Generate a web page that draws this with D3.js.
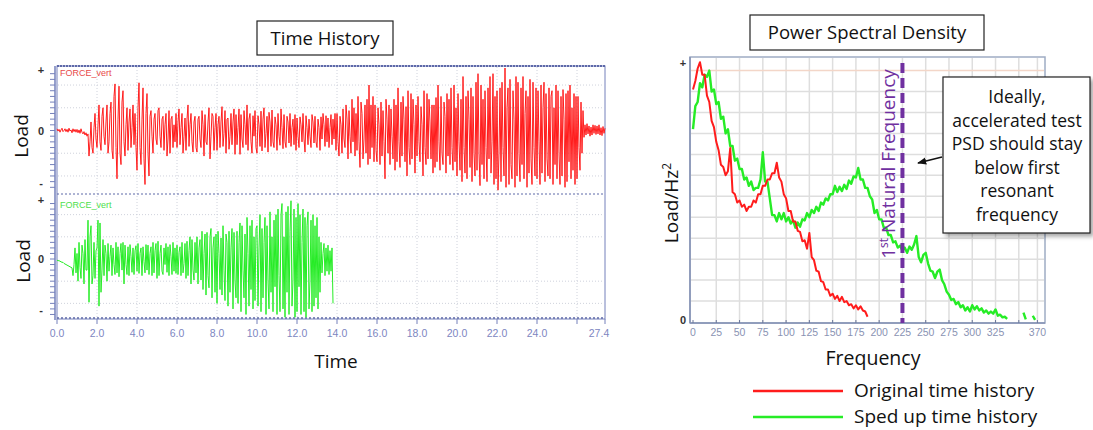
<!DOCTYPE html>
<html><head><meta charset="utf-8">
<script src="https://cdn.jsdelivr.net/npm/d3@7"></script>
<style>
html,body{margin:0;padding:0;background:#fff;}
svg{display:block;}
</style></head><body>
<svg id="chart" width="1093" height="430"></svg>
<script>
// ---------- data ----------
// vertical load, sampled every 0.05 s, in percent of full scale (+100 = "+", -100 = "-")
const timeStep = 0.05;
const originalLoad = [
  3,-1,2,-3,1,4,-2,0,3,-2,2,-3,4,-1,1,-4,3,-2,2,-3,
  2,-4,1,-5,3,-3,-6,-2,-8,-4,-10,-6,-45,-20,15,-30,-40,5,30,-15,
  -30,10,45,-20,-35,25,40,-10,-25,15,45,-40,-20,30,50,-35,-50,60,82,-30,
  -85,20,78,-40,-60,50,70,-20,-45,10,40,-35,15,38,-30,5,45,-25,30,-30,
  -70,40,84,-30,-60,20,75,-50,-95,30,65,-40,-80,25,35,-10,-40,20,30,-15,
  -25,35,40,-10,-30,20,25,-35,10,30,-45,-15,35,-40,20,25,-30,10,-20,30,
  -30,15,38,-25,5,30,-40,-10,22,-35,20,45,-28,10,30,-20,-38,15,25,-30,
  -38,20,25,-15,-30,35,10,-45,28,-20,-25,15,40,-50,-10,30,25,-35,5,30,
  -35,10,25,-30,15,42,-28,-5,35,-40,20,22,-33,-10,30,-25,15,38,-42,28,
  -25,5,38,-42,28,-15,-30,35,10,-25,45,-35,20,30,-20,-40,26,-10,35,-30,
  -40,26,10,-28,34,-36,20,40,-30,-5,25,-38,32,15,-28,36,-20,-30,24,10,
  -35,30,-10,-26,38,5,-32,28,-20,-30,25,15,-22,30,-28,5,20,-25,28,-35,
  22,-10,-30,24,10,-20,30,-15,-38,26,5,-25,20,-10,-30,28,15,-22,25,-20,
  -30,20,5,-35,24,-15,30,10,-28,26,-20,22,-30,5,28,-25,20,-15,30,-35,
  30,-20,-45,25,10,-40,38,-15,-30,45,20,-50,35,-10,-40,55,-20,40,-45,30,
  -35,60,-20,-65,50,30,-50,-15,45,-40,55,-60,80,-50,45,-30,60,-55,45,-35,
  -55,40,10,-60,50,-45,35,-20,-85,55,20,-40,45,-60,38,-10,-50,55,-70,45,
  -55,75,-20,-65,50,-45,60,20,-55,42,-80,70,-30,-60,65,-50,55,10,-75,45,
  -45,60,-20,-55,42,10,-80,70,-30,-60,65,-50,55,15,-50,45,-75,45,-65,58,
  -55,80,-20,-70,60,-40,-60,50,25,-75,65,-45,55,-60,75,-30,-70,80,-55,40,
  -80,65,-20,-70,55,-90,95,-30,-75,60,-85,70,20,-65,75,-90,60,-40,-80,85,
  -70,100,-40,-97,80,-60,55,-85,70,-30,-90,75,-50,95,-75,-20,100,-95,60,-85,
  70,-105,-40,75,-90,85,-30,-80,110,-100,40,75,-95,90,-60,-85,70,20,-100,95,
  -80,85,-40,-90,75,-60,95,-85,30,70,-100,60,-75,90,-50,-95,85,-30,-80,75,
  -85,70,-20,-95,80,-75,40,85,-90,65,-50,-80,75,-85,60,70,-95,40,-60,80,
  -85,70,-40,-95,60,-80,72,20,-100,65,-90,70,-55,80,-85,40,-70,65,-95,60,
  -85,60,-30,-70,50,-40,35,-12,10,-8,12,-6,8,-10,6,-8,10,-5,9,-7,
  8,-6,10,-8,5,-9,7,-5,4
];
const spedUpLoad = [
  -2,-3,-3,-4,-5,-6,-6,-8,-9,-10,-11,-12,-13,-14,-15,-16,-30,-10,20,-25,
  10,-40,30,-15,-35,25,10,-45,35,-20,-20,70,-78,40,60,-45,-30,30,-35,15,
  20,70,-85,65,-60,-20,35,-30,25,10,-40,28,-22,5,25,-30,20,-10,-28,30,
  -25,22,-32,10,28,-20,30,-45,25,-10,-28,22,-30,26,5,-24,20,-28,15,24,
  -22,28,-26,10,20,-30,22,-5,-25,26,-20,25,-28,10,22,-30,30,-25,15,28,
  -35,32,-30,10,25,-22,-28,20,-10,28,-24,22,-30,26,5,-28,30,-22,20,-26,
  25,-28,12,22,-30,30,-25,-8,28,-35,32,-30,15,40,-45,35,-20,-38,30,-25,
  40,-45,20,35,-38,50,-55,10,45,-65,48,-30,-52,40,55,-70,20,40,-60,45,
  -80,50,10,-55,38,-65,60,-20,-75,45,30,-85,50,-60,20,55,-90,48,-40,-70,
  50,-80,30,65,-95,60,-20,-70,45,-100,75,10,-85,60,-55,70,-90,40,-75,55,
  60,-85,20,80,-95,55,-70,30,75,-100,60,-40,-90,85,-60,40,-95,70,-50,80,
  -100,90,-30,-95,80,100,-90,40,-105,85,-60,95,-100,50,105,-85,-40,90,-105,75,
  -95,100,-50,80,-100,30,90,-95,75,-105,60,85,-90,-40,70,-95,80,-85,60,-70,
  75,-90,40,-60,30,-25,10,28,-30,20,-22,25,-28,15,-22,20,-80
];
const timeTicks = [0,2,4,6,8,10,12,14,16,18,20,22,24,26,27.4];
const timeTickLabels = ["0.0","2.0","4.0","6.0","8.0","10.0","12.0","14.0","16.0","18.0","20.0","22.0","24.0","","27.4"];

// power spectral density, sampled every 2.5 Hz (null = no trace)
const freqStep = 2.5;
const originalPsd = [
  11.1,11.5,12.1,12.4,11.8,11.8,10.8,10.5,9.6,9.3,
  8.6,8.2,7.5,7.4,7.0,7.2,8.3,6.2,6.1,5.7,
  5.8,5.5,5.6,5.3,5.5,5.5,5.8,5.7,6.1,6.1,
  6.5,6.5,6.8,6.8,7.1,7.1,7.6,6.9,6.7,6.1,
  5.9,5.3,5.3,4.8,4.8,4.35,4.3,3.85,3.9,3.5,
  4.25,3.1,2.95,2.45,2.4,1.95,1.9,1.55,1.55,1.25,
  1.35,1.1,1.25,1.0,1.2,0.95,1.0,0.8,0.85,0.65,
  0.8,0.6,0.75,0.55,0.5,0.25
];
const spedUpPsd = [
  9.2,10.3,10.5,11.4,11.2,11.8,11.7,12.0,11.0,11.1,
  10.4,10.5,9.7,9.8,9.0,9.2,8.4,8.4,7.7,7.8,
  7.3,7.3,6.8,6.9,6.5,6.7,6.3,6.4,6.4,6.8,
  8.1,6.7,6.7,5.9,5.1,5.1,4.8,5.2,4.9,5.2,
  4.8,5.0,4.7,4.85,4.5,4.75,4.55,4.9,4.85,5.2,
  5.0,5.35,5.2,5.5,5.3,5.7,5.6,5.9,5.8,6.1,
  6.1,6.5,6.2,6.45,6.25,6.55,6.35,6.75,6.6,6.95,
  6.9,7.35,6.8,6.8,6.4,6.4,6.0,5.85,5.2,5.35,
  4.9,4.9,4.5,4.5,4.15,4.15,3.8,3.85,3.55,3.65,
  3.4,3.55,3.3,3.6,3.45,3.7,4.1,3.1,2.85,3.2,
  3.3,2.8,2.45,2.4,2.1,2.4,2.5,2.0,1.8,1.45,
  1.3,1.05,1.1,0.85,0.95,0.7,0.8,0.55,0.7,0.5,
  0.8,0.6,0.75,0.55,0.65,0.45,0.55,0.4,0.5,0.4,
  0.6,0.3,0.35,0.22,0.25,0.15,null,null,null,null,
  null,null,0.45,0.12,null,null,0.3,0.1,null
];
const freqTicks = [0,25,50,75,100,125,150,175,200,225,250,275,300,325,350,370];
const freqTickLabels = ["0","25","50","75","100","125","150","175","200","225","250","275","300","325","","370"];
const naturalFrequency = 225;

const seriesNames = ["Original time history","Sped up time history"];
const noteLines = ["Ideally,","accelerated test","PSD should stay","below first","resonant","frequency"];

// ---------- drawing ----------
const svg = d3.select("#chart");
const RED = "#ff1c1c", GREEN = "#26ec26", PURPLE = "#7030a0";
const AXIS_BLUE = "#7480bb", TICK_TXT = "#7d86bf";
const FONT = "'Open Sans', 'DejaVu Sans', sans-serif";
const SMALL = "'Liberation Sans', Arial, sans-serif";

const defs = svg.append("defs");
const shadow = defs.append("filter").attr("id","shadow").attr("x","-10%").attr("y","-10%").attr("width","130%").attr("height","130%");
shadow.append("feDropShadow").attr("dx",3).attr("dy",3).attr("stdDeviation",2).attr("flood-color","#000").attr("flood-opacity",0.35);
defs.append("marker").attr("id","arrow").attr("viewBox","0 0 10 10").attr("refX",9).attr("refY",5)
  .attr("markerWidth",7).attr("markerHeight",7).attr("orient","auto-start-reverse")
  .append("path").attr("d","M0,1 L10,5 L0,9 z").attr("fill","#111");

// title boxes
function titleBox(cx, y, w, h, label) {
  svg.append("rect").attr("x", cx - w/2).attr("y", y).attr("width", w).attr("height", h)
    .attr("fill","#fff").attr("stroke","#222").attr("stroke-width",1.2);
  svg.append("text").attr("x", cx).attr("y", y + h/2 + 6.5).attr("text-anchor","middle")
    .attr("font-family",FONT).attr("font-size",18.5).attr("fill","#111").text(label);
}
titleBox(325, 21, 136, 34, "Time History");
titleBox(867, 15, 234, 35, "Power Spectral Density");

// ----- time history panels -----
const xT = d3.scaleLinear().domain([0, 27.4]).range([57, 605]);
const yTop = d3.scaleLinear().domain([-110, 110]).range([193, 68]);
const yBot = d3.scaleLinear().domain([-110, 110]).range([320, 198]);
const th = svg.append("g");

// grid
th.selectAll("line.vg").data(timeTicks.filter(t => t > 0 && t < 27)).join("line")
  .attr("x1", d => xT(d)).attr("x2", d => xT(d)).attr("y1", 67).attr("y2", 318)
  .attr("stroke","#cfd2dc").attr("stroke-dasharray","1,2");
[yTop, yBot].forEach(y => {
  th.selectAll(null).data([-80,-40,40,80]).join("line")
    .attr("x1", 58).attr("x2", 604).attr("y1", d => y(d)).attr("y2", d => y(d))
    .attr("stroke","#cfd2dc").attr("stroke-dasharray","1,2");
});

// frame
th.append("rect").attr("x",57).attr("y",66).attr("width",548).attr("height",253)
  .attr("fill","none").attr("stroke",AXIS_BLUE).attr("stroke-width",1);
th.append("line").attr("x1",57).attr("x2",605).attr("y1",66).attr("y2",66)
  .attr("stroke","#5d68a8").attr("stroke-width",2).attr("stroke-dasharray","2,1");
th.append("line").attr("x1",57).attr("x2",605).attr("y1",194).attr("y2",194)
  .attr("stroke","#5d68a8").attr("stroke-width",1).attr("stroke-dasharray","2,2");
th.append("line").attr("x1",57).attr("x2",605).attr("y1",318).attr("y2",318)
  .attr("stroke","#5d68a8").attr("stroke-width",1.5).attr("stroke-dasharray","2,2");

// left axis with minor ticks
th.append("line").attr("x1",55).attr("x2",55).attr("y1",66).attr("y2",320)
  .attr("stroke",AXIS_BLUE).attr("stroke-width",1.5);
[yTop, yBot].forEach(y => {
  th.selectAll(null).data(d3.range(-100, 101, 10)).join("line")
    .attr("x1", 50).attr("x2", 55).attr("y1", d => y(d)).attr("y2", d => y(d))
    .attr("stroke", AXIS_BLUE).attr("stroke-width", 1);
  th.selectAll(null).data([[100,"+"],[0,"0"],[-100,"-"]]).join("text")
    .attr("x", 41).attr("y", d => y(d[0]) + (d[1]==="0" ? 4 : 0))
    .attr("text-anchor","middle").attr("font-family",SMALL).attr("font-size",11)
    .attr("font-weight","bold").attr("fill","#333").text(d => d[1]);
});

// bottom ticks & labels
th.selectAll("line.xt").data(timeTicks).join("line")
  .attr("x1", d => xT(d)).attr("x2", d => xT(d)).attr("y1", 319).attr("y2", 324)
  .attr("stroke", AXIS_BLUE);
th.selectAll("text.xl").data(timeTicks).join("text")
  .attr("x", d => xT(d) - (d === 27.4 ? 6 : 0)).attr("y", 337).attr("text-anchor","middle")
  .attr("font-family",SMALL).attr("font-size",10.5).attr("fill",TICK_TXT)
  .text((d,i) => timeTickLabels[i]);

// signals
const lineTop = d3.line().x((d,i) => xT(i*timeStep)).y(d => yTop(d));
const lineBot = d3.line().x((d,i) => xT(i*timeStep)).y(d => yBot(d));
th.append("path").attr("d", lineTop(originalLoad)).attr("fill","none")
  .attr("stroke",RED).attr("stroke-width",1).attr("stroke-linejoin","round");
th.append("path").attr("d", lineBot(spedUpLoad)).attr("fill","none")
  .attr("stroke",GREEN).attr("stroke-width",1).attr("stroke-linejoin","round");

th.append("text").attr("x",60).attr("y",76).attr("font-family",SMALL).attr("font-size",9)
  .attr("fill","#e84a4a").text("FORCE_vert");
th.append("text").attr("x",60).attr("y",208).attr("font-family",SMALL).attr("font-size",9)
  .attr("fill","#4de04d").text("FORCE_vert");

// axis titles
function vLabel(x, y, txt, sup) {
  const t = svg.append("text").attr("transform", `translate(${x},${y}) rotate(-90)`)
    .attr("text-anchor","middle").attr("font-family",FONT).attr("font-size",19).attr("fill","#111").text(txt);
  if (sup) t.append("tspan").attr("dy",-7).attr("font-size",12).text(sup);
}
vLabel(28, 136, "Load");
vLabel(30, 261, "Load");
svg.append("text").attr("x",336).attr("y",368).attr("text-anchor","middle")
  .attr("font-family",FONT).attr("font-size",19).attr("fill","#111").text("Time");

// ----- PSD panel -----
const xF = d3.scaleLinear().domain([0, 376]).range([693, 1043]);
const yP = d3.scaleLinear().domain([0, 12.6]).range([322, 58]);
const ps = svg.append("g");

ps.append("rect").attr("x",690).attr("y",57).attr("width",355).attr("height",266)
  .attr("fill","#fff").attr("stroke","#9eacc4").attr("stroke-width",1.5);
ps.selectAll(null).data(freqTicks.filter(f => f > 0)).join("line")
  .attr("x1", d => xF(d)).attr("x2", d => xF(d)).attr("y1", 58).attr("y2", 322)
  .attr("stroke","#dedede").attr("stroke-width",1.5);
ps.selectAll(null).data(d3.range(1, 12)).join("line")
  .attr("x1", 691).attr("x2", 1044).attr("y1", d => yP(d)).attr("y2", d => yP(d))
  .attr("stroke","#dedede").attr("stroke-width",1.5);
ps.append("line").attr("x1",691).attr("x2",1044).attr("y1",yP(12)).attr("y2",yP(12))
  .attr("stroke","#f3d6c8").attr("stroke-width",1.5);

// axes
ps.append("line").attr("x1",690).attr("x2",1045).attr("y1",323).attr("y2",323)
  .attr("stroke","#8592b4").attr("stroke-width",1.5);
ps.append("line").attr("x1",690).attr("x2",690).attr("y1",57).attr("y2",323)
  .attr("stroke","#8592b4").attr("stroke-width",1.5);
ps.selectAll(null).data(freqTicks).join("line")
  .attr("x1", d => xF(d)).attr("x2", d => xF(d)).attr("y1", 320).attr("y2", 323)
  .attr("stroke","#6c789c");
ps.selectAll(null).data(freqTicks).join("text")
  .attr("x", d => xF(d)).attr("y", 336).attr("text-anchor","middle")
  .attr("font-family",SMALL).attr("font-size",10.5).attr("fill","#8a93b3")
  .text((d,i) => freqTickLabels[i]);
ps.append("text").attr("x",683).attr("y",67).attr("text-anchor","middle")
  .attr("font-family",SMALL).attr("font-size",11).attr("font-weight","bold").attr("fill","#333").text("+");
ps.append("text").attr("x",683).attr("y",324).attr("text-anchor","middle")
  .attr("font-family",SMALL).attr("font-size",11).attr("font-weight","bold").attr("fill","#333").text("0");

// spectra
const psdLine = d3.line().defined(d => d !== null).x((d,i) => xF(i*freqStep)).y(d => yP(d));
ps.append("path").attr("d", psdLine(spedUpPsd)).attr("fill","none")
  .attr("stroke",GREEN).attr("stroke-width",2.4).attr("stroke-linejoin","round");
ps.append("path").attr("d", psdLine(originalPsd)).attr("fill","none")
  .attr("stroke",RED).attr("stroke-width",2).attr("stroke-linejoin","round");

// first natural frequency marker
ps.append("line").attr("x1", xF(naturalFrequency)).attr("x2", xF(naturalFrequency))
  .attr("y1", 63).attr("y2", 323).attr("stroke",PURPLE).attr("stroke-width",4)
  .attr("stroke-dasharray","10,5");
const nf = svg.append("text").attr("transform", `translate(${xF(naturalFrequency) - 7},164) rotate(-90)`)
  .attr("text-anchor","middle").attr("font-family",FONT).attr("font-size",19).attr("fill",PURPLE);
nf.append("tspan").text("1");
nf.append("tspan").attr("dy",-7).attr("font-size",12).text("st");
nf.append("tspan").attr("dy",7).text(" Natural Frequency");

vLabel(678, 203, "Load/Hz", "2");
svg.append("text").attr("x",873).attr("y",365).attr("text-anchor","middle")
  .attr("font-family",FONT).attr("font-size",19.5).attr("fill","#111").text("Frequency");

// note box with arrow
svg.append("rect").attr("x",943).attr("y",77).attr("width",147).attr("height",156)
  .attr("fill","#fff").attr("stroke","#222").attr("stroke-width",1.2).attr("filter","url(#shadow)");
svg.selectAll("text.note").data(noteLines).join("text")
  .attr("x",1017).attr("y",(d,i) => 103 + i*23.5).attr("text-anchor","middle")
  .attr("font-family",FONT).attr("font-size",17.5).attr("fill","#111").text(d => d);
svg.append("line").attr("x1",942).attr("y1",157).attr("x2",918).attr("y2",163)
  .attr("stroke","#111").attr("stroke-width",1.3).attr("marker-end","url(#arrow)");

// legend
const legend = svg.append("g");
[[RED, 391], [GREEN, 417]].forEach((c, i) => {
  legend.append("line").attr("x1",753).attr("x2",843).attr("y1",c[1]).attr("y2",c[1])
    .attr("stroke",c[0]).attr("stroke-width",2.5);
  legend.append("text").attr("x",854).attr("y",c[1] + 6).attr("font-family",FONT)
    .attr("font-size",19).attr("fill","#111").text(seriesNames[i]);
});
</script>
</body></html>
